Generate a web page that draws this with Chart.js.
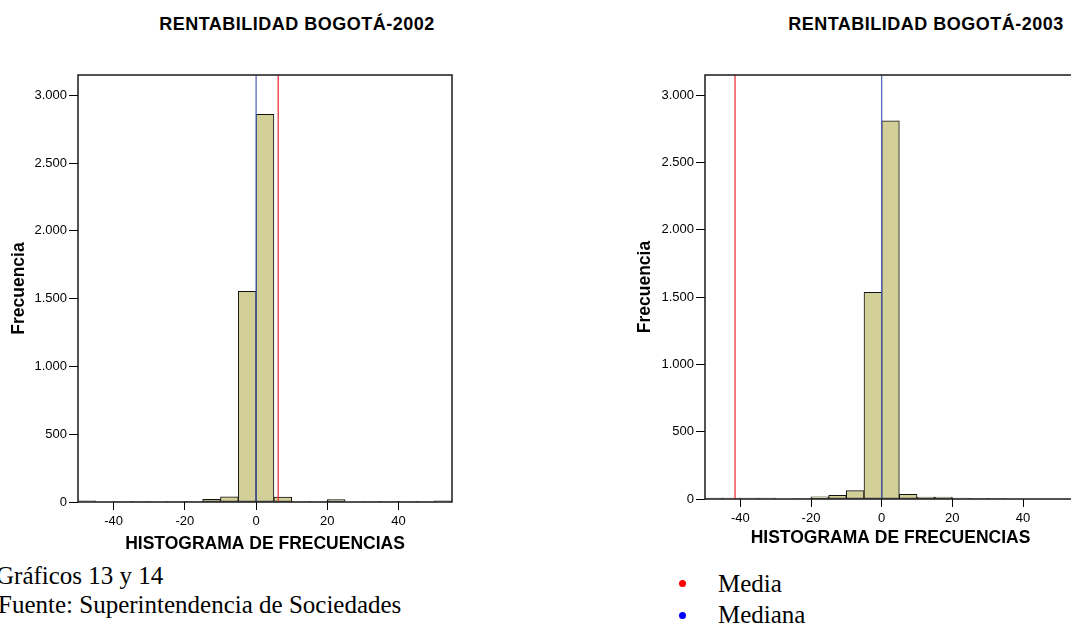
<!DOCTYPE html>
<html lang="es">
<head>
<meta charset="utf-8">
<title>Rentabilidad Bogotá 2002-2003</title>
<script src="https://cdn.jsdelivr.net/npm/chart.js@4.4.1/dist/chart.umd.min.js"></script>
<style>
    html, body {
        margin: 0;
        padding: 0;
        background: #fff;
    }
    body {
        position: relative;
        width: 1071px;
        height: 625px;
        overflow: hidden;
    }
    canvas {
        position: absolute;
    }
    .chart-title {
        position: absolute;
        width: 400px;
        text-align: center;
        font: bold 18px Arial, "Liberation Sans", sans-serif;
        letter-spacing: 0.5px;
        line-height: 18px;
        color: #000;
        white-space: nowrap;
    }
    .note {
        position: absolute;
        font-family: "Times New Roman", "Liberation Serif", serif;
        font-size: 25px;
        line-height: 25px;
        color: #000;
        white-space: nowrap;
    }
    .dot {
        position: absolute;
        width: 7px;
        height: 7px;
        border-radius: 50%;
    }
</style>
</head>
<body>
    <div class="chart-title" style="left: 97px; top: 15px;">RENTABILIDAD BOGOTÁ-2002</div>
    <div class="chart-title" style="left: 726px; top: 15px;">RENTABILIDAD BOGOTÁ-2003</div>

    <canvas id="chart2002" width="470" height="562" style="left: 0; top: 0;"></canvas>
    <canvas id="chart2003" width="470" height="559" style="left: 620px; top: 0;"></canvas>

    <div class="note" style="left: -4px; top: 563px;">Gráficos 13 y 14</div>
    <div class="note" style="left: -2px; top: 592px;">Fuente: Superintendencia de Sociedades</div>

    <div class="dot" style="left: 679px; top: 580px; background: #ff0000;"></div>
    <div class="note" style="left: 718px; top: 571px;">Media</div>
    <div class="dot" style="left: 679px; top: 612px; background: #0000ff;"></div>
    <div class="note" style="left: 718px; top: 602px;">Mediana</div>

<script>
// bins of width 5, from -50 to 55
const binCenters = [-47.5, -42.5, -37.5, -32.5, -27.5, -22.5, -17.5, -12.5, -7.5, -2.5,
                    2.5, 7.5, 12.5, 17.5, 22.5, 27.5, 32.5, 37.5, 42.5, 47.5, 52.5];

const counts2002 = [8, 0, 5, 5, 4, 5, 5, 20, 38, 1555,
                    2860, 36, 5, 5, 18, 0, 5, 5, 1, 1, 8];
const counts2003 = [6, 6, 6, 6, 0, 5, 17, 27, 62, 1536,
                    2809, 35, 15, 15, 6, 5, 5, 0, 0, 0, 0];

const mean2002 = 6.2;
const median2002 = 0;
const mean2003 = -41.5;
const median2003 = 0;

const xTicks = [-40, -20, 0, 20, 40];
const yTicks = [0, 500, 1000, 1500, 2000, 2500, 3000];

const X_MIN = -50;
const X_MAX = 55;
const Y_MAX = 3150;

const BAR_FILL = 'rgb(211, 207, 152)';
const MEAN_COLOR = '#e8262b';
const MEDIAN_COLOR = '#4b5fb8';
const FONT = 'Arial, "Liberation Sans", sans-serif';

Chart.defaults.font.family = FONT;
Chart.defaults.color = '#000';

// box around the plot area
const frame = {
    id: 'frame',
    afterDatasetsDraw(chart) {
        const { ctx, chartArea: a } = chart;
        ctx.save();
        ctx.strokeStyle = '#1a1a1a';
        ctx.lineWidth = 1.5;
        ctx.strokeRect(a.left, a.top, a.right - a.left, a.bottom - a.top);
        ctx.restore();
    }
};

function thousands(v) {
    return String(v).replace(/\B(?=(\d{3})+(?!\d))/g, '.');
}

function vline(x, color) {
    return {
        type: 'line',
        data: [{ x: x, y: 0 }, { x: x, y: Y_MAX }],
        borderColor: color,
        borderWidth: 1.2,
        pointRadius: 0,
        order: 0
    };
}

function drawHistogram(canvasId, counts, mean, median, g) {
    const ctx = document.getElementById(canvasId).getContext('2d');

    return new Chart(ctx, {
        type: 'bar',
        data: {
            datasets: [
                vline(mean, MEAN_COLOR),
                vline(median, MEDIAN_COLOR),
                {
                    data: binCenters.map((c, i) => ({ x: c, y: counts[i] })),
                    backgroundColor: BAR_FILL,
                    borderColor: '#111',
                    borderWidth: 1,
                    borderSkipped: false,
                    categoryPercentage: 1,
                    barPercentage: 1,
                    order: 1
                }
            ]
        },
        options: {
            responsive: false,
            animation: false,
            layout: {
                padding: { top: 75, left: 0, right: g.padRight, bottom: 0 }
            },
            plugins: {
                legend: { display: false },
                tooltip: { enabled: false },
                title: { display: false }
            },
            scales: {
                x: {
                    type: 'linear',
                    min: X_MIN,
                    max: X_MAX,
                    offset: false,
                    grid: {
                        offset: false,
                        drawOnChartArea: false,
                        drawTicks: true,
                        tickLength: 8,
                        color: '#000'
                    },
                    border: { display: false },
                    ticks: {
                        padding: 4,
                        font: { size: 13 },
                        color: '#000'
                    },
                    afterBuildTicks: (s) => { s.ticks = xTicks.map(v => ({ value: v })); },
                    title: {
                        display: true,
                        text: 'HISTOGRAMA DE FRECUENCIAS',
                        font: { size: 17.5, weight: 'bold' },
                        padding: { top: 0, bottom: g.xTitlePad }
                    },
                    afterFit: (s) => { s.height = 60; }
                },
                y: {
                    min: 0,
                    max: Y_MAX,
                    grid: {
                        drawOnChartArea: false,
                        drawTicks: true,
                        tickLength: 9,
                        color: '#000'
                    },
                    border: { display: false },
                    ticks: {
                        padding: 2,
                        font: { size: 13 },
                        color: '#000',
                        callback: (v) => thousands(v)
                    },
                    afterBuildTicks: (s) => { s.ticks = yTicks.map(v => ({ value: v })); },
                    title: {
                        display: true,
                        text: 'Frecuencia',
                        font: { size: 17.5, weight: 'bold' },
                        padding: { top: g.yTitlePad, bottom: 0 }
                    },
                    afterFit: (s) => { s.width = g.yWidth; }
                }
            }
        },
        plugins: [frame]
    });
}

drawHistogram('chart2002', counts2002, mean2002, median2002,
    { yWidth: 78, padRight: 18, yTitlePad: 9, xTitlePad: 7.5 });
drawHistogram('chart2003', counts2003, mean2003, median2003,
    { yWidth: 85, padRight: 14, yTitlePad: 15, xTitlePad: 10.5 });
</script>
</body>
</html>
